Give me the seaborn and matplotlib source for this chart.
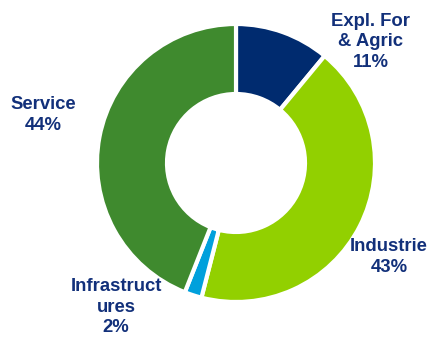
import matplotlib
matplotlib.use("Agg")
import matplotlib.pyplot as plt
import seaborn as sns

categories = ["Expl. For\n& Agric", "Industrie", "Infrastruct\nures", "Service"]
values = [11, 43, 2, 44]
colors = ["#002B6F", "#92D000", "#00A0DC", "#3F8A2E"]

sns.set_theme(style="white")
plt.rcParams['font.family'] = ['Liberation Sans', 'DejaVu Sans']

fig = plt.figure(figsize=(4.31, 3.39), dpi=100)
ax = fig.add_axes([0, 0, 1, 1])

ax.pie(values, colors=colors, startangle=90, counterclock=False,
       center=(236, 176), radius=139,
       wedgeprops=dict(width=70, edgecolor='white', linewidth=3))

ax.set_xlim(0, 431)
ax.set_ylim(0, 339)
ax.set_aspect('equal')
ax.axis('off')

label_pos = [(371, 297), (389, 82), (116, 32), (43, 224)]
txt_color = "#12307A"
for cat, v, (x, y) in zip(categories, values, label_pos):
    ax.text(x, y, f"{cat}\n{v}%", ha='center', va='center', fontsize=13.3,
            fontweight='bold', color=txt_color, linespacing=1.25)

fig.savefig("out.png", dpi=100)
